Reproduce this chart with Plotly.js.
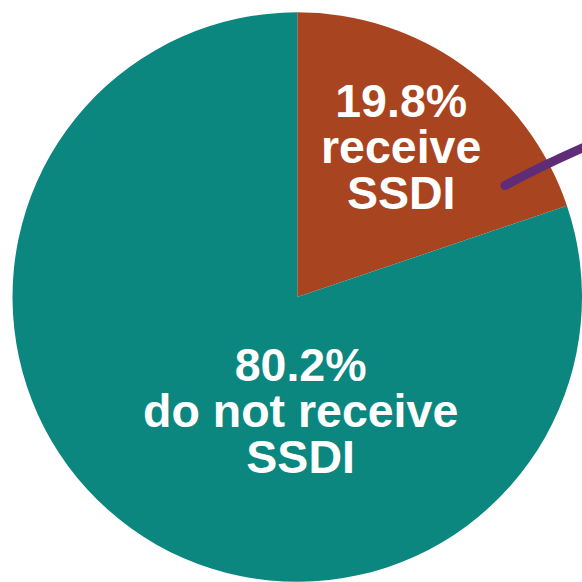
<!DOCTYPE html>
<html>
<head>
<meta charset="utf-8">
<script src="https://cdn.plot.ly/plotly-3.0.1.min.js"></script>
<style>html,body{margin:0;padding:0;background:#fff;}#chart{width:582px;height:582px;}</style>
</head>
<body>
<div id="chart"></div>
<script>
const categories = ['receive SSDI', 'do not receive SSDI'];
const values = [19.8, 80.2];
const labelLines = [['receive', 'SSDI'], ['do not receive', 'SSDI']];
const colors = ['#a8441f', '#0b877f'];

const FONT = 46.5;
const LINE_EM = 0.99;
// label anchor positions (pixels) for each slice's text block: first-line centre
const labelPos = [{x: 401, y: 101}, {x: 300.5, y: 365}];

const annotations = categories.map((c, i) => {
  const lines = [values[i].toFixed(1) + '%'].concat(labelLines[i]);
  return {
    text: lines.map(t => '<b>' + t + '</b>').join('<br>'),
    xref: 'paper', yref: 'paper',
    x: labelPos[i].x / 582,
    y: 1 - (labelPos[i].y + 1.3 * FONT) / 582,
    xanchor: 'center', yanchor: 'middle', align: 'center', showarrow: false,
    font: {family: 'Liberation Sans, Arial, sans-serif', size: FONT, color: '#ffffff'}
  };
});

const data = [{
  type: 'pie',
  labels: categories,
  values: values,
  sort: false,
  direction: 'clockwise',
  rotation: 0,
  textinfo: 'none',
  hoverinfo: 'none',
  marker: {colors: colors, line: {width: 0}},
  domain: {x: [12.5 / 582, 1], y: [0, 1 - 12.2 / 582]},
  showlegend: false
}];

const px = (v) => v / 582;
const py = (v) => 1 - v / 582;

const layout = {
  width: 582, height: 582,
  margin: {l: 0, r: 0, t: 0, b: 0},
  paper_bgcolor: '#ffffff',
  showlegend: false,
  annotations: annotations,
  shapes: [
    {type: 'path', xref: 'paper', yref: 'paper',
     path: 'M ' + px(505) + ',' + py(185.5) + ' Q ' + px(545) + ',' + py(164) + ' ' + px(596) + ',' + py(142),
     line: {color: '#5f2c78', width: 9}},
    {type: 'circle', xref: 'paper', yref: 'paper',
     x0: px(500.5), x1: px(509.5), y0: py(181), y1: py(190),
     fillcolor: '#5f2c78', line: {width: 0}}
  ]
};

Plotly.newPlot('chart', data, layout, {displayModeBar: false, staticPlot: true}).then(gd => {
  gd.querySelectorAll('.annotation-text').forEach(txt => {
    txt.querySelectorAll('tspan.line').forEach((ts, k) => {
      ts.setAttribute('dy', (k * LINE_EM) + 'em');
    });
  });
});
</script>
</body>
</html>
